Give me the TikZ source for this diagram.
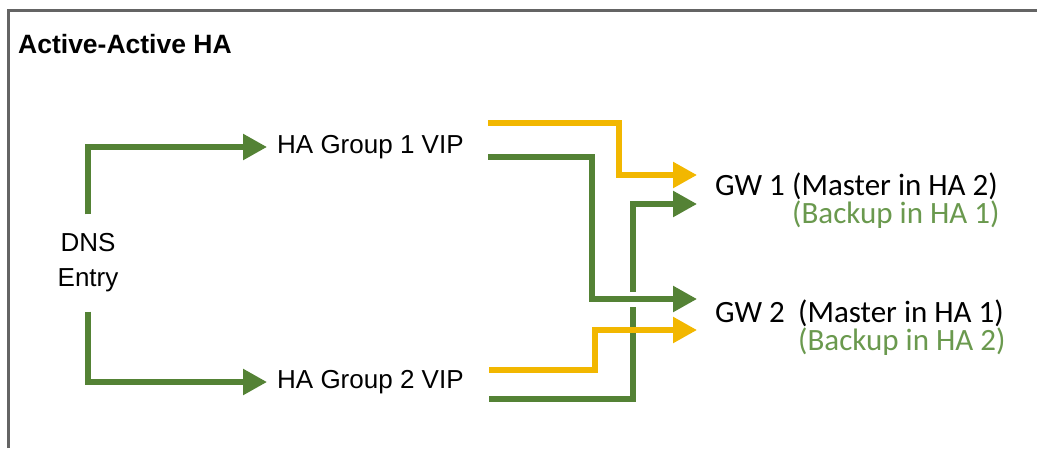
\documentclass[tikz,border=0pt]{standalone}
\usepackage{fontspec}
\setmainfont{Liberation Sans}
\newfontfamily\calfont{Carlito}
\usetikzlibrary{arrows.meta}
\definecolor{arrgreen}{RGB}{84,130,53}
\definecolor{arryellow}{RGB}{242,183,0}
\definecolor{backgreen}{RGB}{106,153,78}
\definecolor{framegray}{RGB}{100,100,100}
\tikzset{
  grn/.style={draw=arrgreen, line width=5.5pt, -{Triangle[length=24pt,width=25pt]}},
  yel/.style={draw=arryellow, line width=5.5pt, -{Triangle[length=24pt,width=25pt]}},
  lbl/.style={font=\fontsize{26}{30}\selectfont, inner sep=0pt, text=black},
  gwlbl/.style={font=\calfont\fontsize{31}{36}\selectfont, inner sep=0pt, anchor=base west, text=black},
  bklbl/.style={gwlbl, text=backgreen},
}
\begin{document}
\begin{tikzpicture}[x=1pt,y=-1pt]
\useasboundingbox (0,0) rectangle (1037,448);
% frame
\draw[framegray, line width=3pt] (8,448) -- (8,10) -- (1037,10);
\node[anchor=base west, inner sep=0pt, font=\bfseries\fontsize{26.5}{31}\selectfont] (title) at (18,53) {Active-Active HA};

% nodes
\node[lbl, align=center, minimum height=97pt, font=\fontsize{26}{35}\selectfont] (dns) at (88,263) {DNS\\Entry};
\node[lbl, anchor=west, inner xsep=10pt] (ha1) at (267,147) {HA Group 1 VIP};
\node[lbl, anchor=west, inner xsep=10pt] (ha2) at (267,382) {HA Group 2 VIP};

\node[gwlbl] (gw1) at (715,195) {GW 1};
\node[gwlbl] (gw1m) at (792,195) {(Master in HA 2)};
\node[bklbl] (gw1b) at (792,223) {(Backup in HA 1)};
\node[gwlbl] (gw2) at (715,322) {GW 2};
\node[gwlbl] (gw2m) at (798,322) {(Master in HA 1)};
\node[bklbl] (gw2b) at (798,350) {(Backup in HA 2)};

% connector end points
\coordinate (h1y) at (488,123);
\coordinate (h1g) at (488,157);
\coordinate (h2y) at (489,370);
\coordinate (h2g) at (489,399);
\coordinate (g1y) at (697,175);
\coordinate (g1g) at (697,204);
\coordinate (g2g) at (697,299);
\coordinate (g2y) at (697,330);

% DNS arrows
\draw[grn] (dns.north) |- (ha1.west);
\draw[grn] (dns.south) |- (ha2.west);

% HA2 green -> GW1
\draw[grn] (h2g) -| (633,204) -- (g1g);
% gap
\draw[white, line width=15pt] (626,299) -- (640,299);
% HA1 green -> GW2
\draw[grn] (h1g) -| (592,299) -- (g2g);
% HA2 yellow -> GW2
\draw[yel] (h2y) -| (595,330) -- (g2y);
% HA1 yellow -> GW1
\draw[yel] (h1y) -| (619,175) -- (g1y);
\end{tikzpicture}
\end{document}
